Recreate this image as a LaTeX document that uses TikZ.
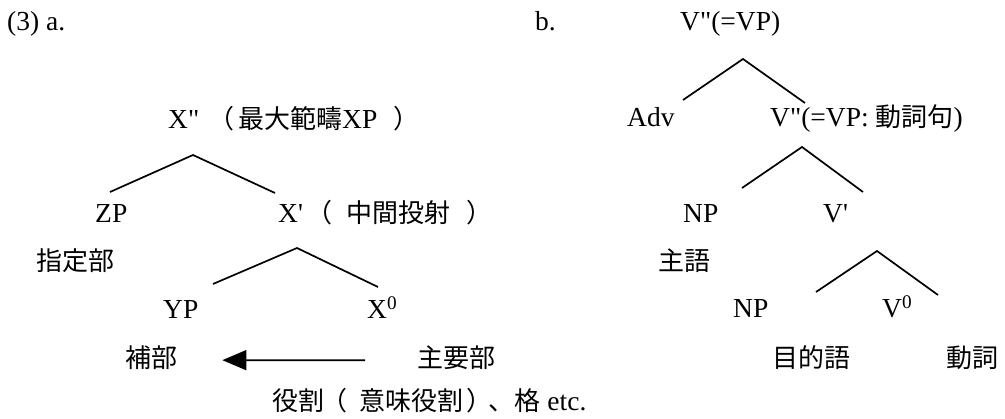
\documentclass[tikz,border=0pt]{standalone}
\usepackage{fontspec}
\setmainfont{Liberation Serif}
\newfontfamily\cjk{Noto Sans CJK JP}[Scale=0.945]
\usetikzlibrary{arrows.meta}
\begin{document}
\begin{tikzpicture}[x=1pt,y=-1pt, font=\fontsize{27.5}{32}\selectfont,
  lbl/.style={inner sep=0pt, anchor=base west},
  br/.style={line width=1.7pt},
  arr/.style={line width=1.7pt, -{Triangle[length=24pt,width=20pt]}}]
\useasboundingbox (0,0) rectangle (1005,419);
% tree a
\node[lbl] (la) at (7,31) {(3) a.};
\node[lbl] (xpp) at (168,129) {X\textquotedbl\hspace{9pt}{\cjk （\hspace{4pt}最大範疇}XP\hspace{16pt}{\cjk ）}};
\node[lbl] (zp) at (95,223) {ZP};
\node[lbl] (xp) at (278,223) {X\textquotesingle\hspace{3pt}{\cjk （\hspace{15pt}中間投射\hspace{16pt}）}};
\node[lbl] (spec) at (36,271) {\cjk 指定部};
\node[lbl] (yp) at (163,319) {YP};
\node[lbl] (x0) at (367,319) {X\textsuperscript{0}};
\node[lbl] (comp) at (125,368) {\cjk 補部};
\node[lbl] (head) at (417,368) {\cjk 主要部};
\node[lbl] (role) at (272,411) {{\cjk 役割\hspace{-3pt}（\hspace{12pt}意味役割\hspace{3.5pt}）\hspace{-4pt}、格} etc.};
% tree b
\node[lbl] (lb) at (535,31) {b.};
\node[lbl] (vpp) at (680,31) {V\textquotedbl(=VP)};
\node[lbl] (adv) at (627,127) {Adv};
\node[lbl] (vp2) at (770,127) {V\textquotedbl(=VP: {\cjk 動詞句})};
\node[lbl] (np1) at (683,223) {NP};
\node[lbl] (vbar) at (823,223) {V\textquotesingle};
\node[lbl] (subj) at (658,271) {\cjk 主語};
\node[lbl] (np2) at (733,318) {NP};
\node[lbl] (v0) at (882,318) {V\textsuperscript{0}};
\node[lbl] (obj) at (772,368) {\cjk 目的語};
\node[lbl] (verb) at (946,368) {\cjk 動詞};
% branch coordinates
\coordinate (a1) at (193,155); \coordinate (a1l) at (110,192); \coordinate (a1r) at (275,193);
\coordinate (a2) at (297,248); \coordinate (a2l) at (213,284); \coordinate (a2r) at (378,287);
\coordinate (b1) at (743,59);  \coordinate (b1l) at (683,100); \coordinate (b1r) at (805,103);
\coordinate (b2) at (802,147); \coordinate (b2l) at (742,188); \coordinate (b2r) at (863,192);
\coordinate (b3) at (877,251); \coordinate (b3l) at (816,292); \coordinate (b3r) at (938,295);
\draw[br] (a1l) -- (a1) -- (a1r);
\draw[br] (a2l) -- (a2) -- (a2r);
\draw[br] (b1l) -- (b1) -- (b1r);
\draw[br] (b2l) -- (b2) -- (b2r);
\draw[br] (b3l) -- (b3) -- (b3r);
\draw[arr, shorten <=52pt, shorten >=45pt] ([yshift=-2pt]head.west) -- ([yshift=-2pt]comp.east);
\end{tikzpicture}
\end{document}
